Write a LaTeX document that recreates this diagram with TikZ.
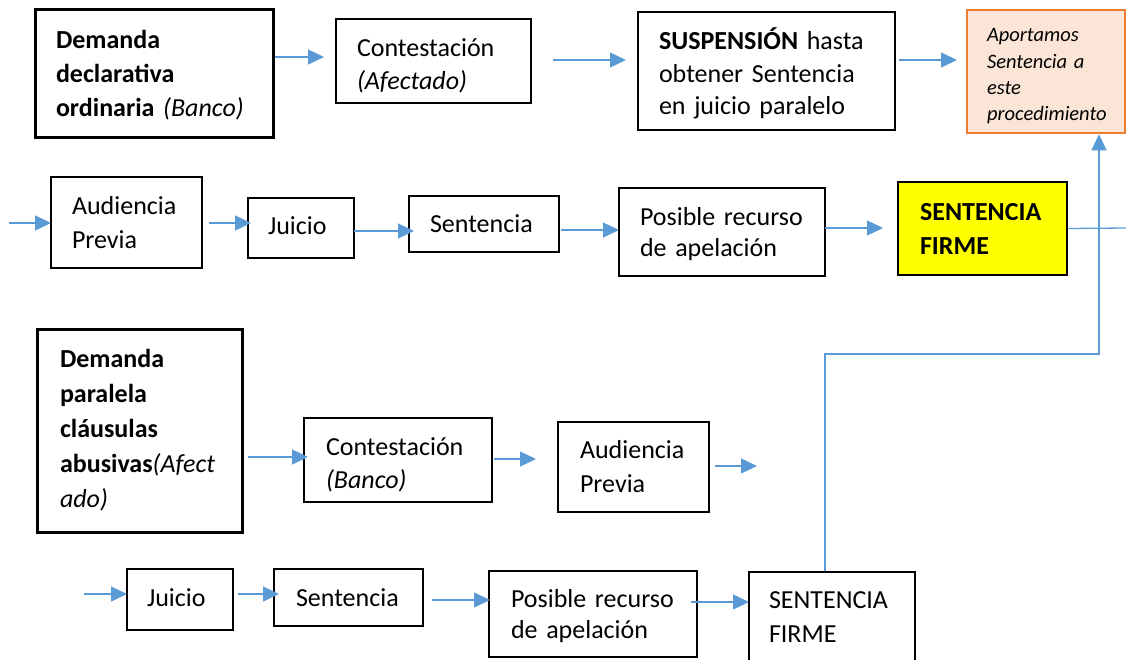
\documentclass[tikz,border=0pt]{standalone}
\usepackage{fontspec}
\setmainfont{Carlito}
\usetikzlibrary{arrows.meta}
\definecolor{arrblue}{HTML}{5B9BD5}
\definecolor{orng}{HTML}{ED7D31}
\definecolor{peach}{HTML}{FBE5D6}
\definecolor{yel}{HTML}{FFFF00}
\newcommand\boxtop{22pt}
\newcommand\boxbot{6pt}
\begin{document}
\begin{tikzpicture}[x=1pt,y=-1pt,
  box/.style={draw=black, line width=1.3pt, rectangle, inner xsep=21pt, inner ysep=0pt,
    align=left, font=\fontsize{26}{34}\selectfont,
    execute at begin node={\leavevmode\rule{0pt}{\boxtop}},
    execute at end node={\rule[-\boxbot]{0pt}{\boxbot}}},
  heavybox/.style={box, line width=3pt},
  tpad/.style={/utils/exec={\def\boxtop{#1}}},
  bpad/.style={/utils/exec={\def\boxbot{#1}}},
  arr/.style={draw=arrblue, line width=1.3pt, -{Triangle[length=16pt,width=15pt]}},
  conn/.style={draw=arrblue, line width=1.3pt},
]
\useasboundingbox (0,0) rectangle (1126,659);

% ---------- Row 1 ----------
\node[heavybox, tpad=24pt, minimum width=238pt, minimum height=128pt, text width=196pt, inner xsep=21pt] (d1) at (154,73)
  {\textbf{Demanda}\\\textbf{declarativa}\\\mbox{\textbf{ordinaria} \textit{(Banco)}}};
\node[box, tpad=30pt, minimum width=195pt, minimum height=84pt, text width=153pt, font=\fontsize{26}{33}\selectfont] (c1) at (433.5,61)
  {Contestación\\\textit{(Afectado)}};
\node[box, tpad=28pt, minimum width=257pt, minimum height=118pt, text width=215pt, font=\fontsize{26}{32.5}\selectfont] (s1) at (766.5,71)
  {\mbox{\textbf{SUSPENSIÓN} hasta}\\\mbox{obtener Sentencia}\\\mbox{en juicio paralelo}};
\node[box, tpad=23pt, bpad=3pt, draw=orng, fill=peach, line width=2.5pt, minimum width=158pt, minimum height=123pt,
  text width=118pt, inner xsep=20pt, font=\fontsize{20.5}{26.3}\selectfont\itshape] (ap) at (1046,71.5)
  {Aportamos\\Sentencia a\\este\\\mbox{procedimiento}};

\coordinate (a1s) at (275,57);  \coordinate (a1e) at (324,57);
\coordinate (a2s) at (553,60);  \coordinate (a2e) at (626,60);
\coordinate (a3s) at (899,60);  \coordinate (a3e) at (957,60);
\draw[arr] (a1s) -- (a1e);
\draw[arr] (a2s) -- (a2e);
\draw[arr] (a3s) -- (a3e);

% ---------- Row 2 ----------
\node[box, tpad=23pt, minimum width=151pt, minimum height=91pt, text width=109pt] (ap2) at (126.5,222.5)
  {Audiencia\\Previa};
\node[box, tpad=18pt, minimum width=106pt, minimum height=60pt, text width=66pt, inner xsep=20pt] (j2) at (301,228)
  {Juicio};
\node[box, minimum width=150pt, minimum height=56pt, text width=108pt] (se2) at (484,224)
  {Sentencia};
\node[box, tpad=23pt, minimum width=206pt, minimum height=88pt, text width=164pt, font=\fontsize{26}{31}\selectfont] (pr2) at (722,232)
  {\mbox{Posible recurso}\\\mbox{de apelación}};
\node[box, tpad=24pt, fill=yel, line width=2.5pt, minimum width=169pt, minimum height=93pt, text width=125pt, inner xsep=22pt] (sf2) at (982.5,228.5)
  {\textbf{SENTENCIA}\\\textbf{FIRME}};

\coordinate (b0s) at (9,223);    \coordinate (b0e) at (51,223);
\coordinate (b1s) at (209,223);  \coordinate (b1e) at (251,223);
\coordinate (b2s) at (354,231);  \coordinate (b2e) at (414,231);
\coordinate (b3s) at (561,230);  \coordinate (b3e) at (619,230);
\coordinate (b4s) at (825,228);  \coordinate (b4e) at (883,228);
\coordinate (b5e) at (1126,228);
\draw[arr] (b0s) -- (b0e);
\draw[arr] (b1s) -- (b1e);
\draw[arr] (b2s) -- (b2e);
\draw[arr] (b3s) -- (b3e);
\draw[arr] (b4s) -- (b4e);
\draw[conn] (sf2.east) -- (b5e);

% ---------- Row 3 ----------
\node[heavybox, tpad=19pt, minimum width=205pt, minimum height=203pt, text width=159pt, inner xsep=23pt, font=\fontsize{26}{35}\selectfont] (dp) at (139.5,430.5)
  {\textbf{Demanda}\\\textbf{paralela}\\\textbf{cláusulas}\\\mbox{\textbf{abusivas}\textit{(Afect}}\\\textit{ado)}};
\node[box, tpad=29pt, minimum width=188pt, minimum height=84pt, text width=144pt, inner xsep=22pt, font=\fontsize{26}{33}\selectfont] (c3) at (398,460)
  {Contestación\\\textit{(Banco)}};
\node[box, minimum width=151pt, minimum height=90pt, text width=107pt, inner xsep=22pt] (a3) at (633.5,467)
  {Audiencia\\Previa};

\coordinate (c0s) at (248,457);  \coordinate (c0e) at (308,457);
\coordinate (c1s) at (494,459);  \coordinate (c1e) at (536,459);
\coordinate (c2s) at (715,466);  \coordinate (c2e) at (757,466);
\draw[arr] (c0s) -- (c0e);
\draw[arr] (c1s) -- (c1e);
\draw[arr] (c2s) -- (c2e);

% ---------- Row 4 ----------
\node[box, tpad=19pt, minimum width=106pt, minimum height=61pt, text width=66pt, inner xsep=20pt] (j4) at (180,599.5)
  {Juicio};
\node[box, tpad=23pt, minimum width=149pt, minimum height=57pt, text width=105pt, inner xsep=22pt] (se4) at (348.5,597.5)
  {Sentencia};
\node[box, tpad=23pt, minimum width=208pt, minimum height=86pt, text width=164pt, inner xsep=22pt, font=\fontsize{26}{31}\selectfont] (pr4) at (593,614)
  {\mbox{Posible recurso}\\\mbox{de apelación}};
\node[box, minimum width=166pt, minimum height=90pt, text width=126pt, inner xsep=20pt] (sf4) at (832,617)
  {SENTENCIA\\FIRME};

\coordinate (d0s) at (84,594);   \coordinate (d0e) at (127,594);
\coordinate (d1s) at (238,594);  \coordinate (d1e) at (279,594);
\coordinate (d2s) at (432,600);  \coordinate (d2e) at (490,600);
\coordinate (d3s) at (691,602);  \coordinate (d3e) at (749,602);
\draw[arr] (d0s) -- (d0e);
\draw[arr] (d1s) -- (d1e);
\draw[arr] (d2s) -- (d2e);
\draw[arr] (d3s) -- (d3e);

% ---------- Connector from parallel sentence to "Aportamos" ----------
\coordinate (k1) at (825,354);
\coordinate (k2) at (1099,354);
\draw[arr] (sf4.north -| k1) -- (k1) -- (k2) -- (ap.south -| k2);
\end{tikzpicture}
\end{document}
